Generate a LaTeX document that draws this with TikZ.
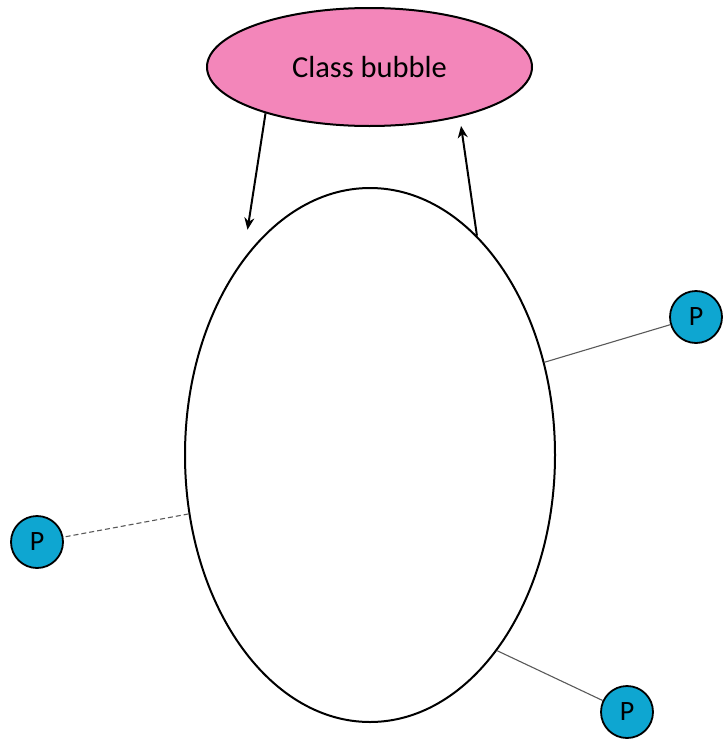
\documentclass[tikz,border=0pt]{standalone}
\usepackage{fontspec}
\setmainfont{Carlito}
\usetikzlibrary{shapes.geometric,arrows.meta}
\definecolor{bubblepink}{HTML}{F386BA}
\definecolor{pcyan}{HTML}{0EA6D1}
\tikzset{
  outline/.style={draw=black,line width=2pt},
  classbubble/.style={ellipse,outline,fill=bubblepink,inner sep=0pt,minimum width=325pt,minimum height=118pt,font=\fontsize{30.5}{34}\selectfont},
  bigbubble/.style={ellipse,outline,fill=white,inner sep=0pt,minimum width=370pt,minimum height=534pt},
  pnode/.style={circle,draw=black,line width=1.8pt,fill=pcyan,inner sep=0pt,minimum size=52pt,font=\fontsize{28}{32}\selectfont},
  flow/.style={line width=2pt,-{Stealth[length=12pt,width=10pt]}},
  link/.style={draw=gray!70!black,line width=1.1pt},
}
\begin{document}
\begin{tikzpicture}[x=1pt,y=-1pt]
\useasboundingbox (0,0) rectangle (724,739);
\node[classbubble] (cb) at (369.5,67) {Class bubble};
\node[bigbubble] (big) at (370,455) {};
\node[pnode] (p1) at (696,317) {P};
\node[pnode] (p2) at (37,542) {P};
\node[pnode] (p3) at (627,712) {P};
\draw[flow,shorten >=30pt] (cb.204.6) -- (big.123.9);
\draw[flow,shorten >=9pt] (big.64.1) -- (cb.-29.7);
\draw[link] (big.28.5) -- (p1);
\draw[link,dash pattern=on 5pt off 3pt] (big.198.4) -- (p2);
\draw[link] (big.-57.8) -- (p3);
\end{tikzpicture}
\end{document}
